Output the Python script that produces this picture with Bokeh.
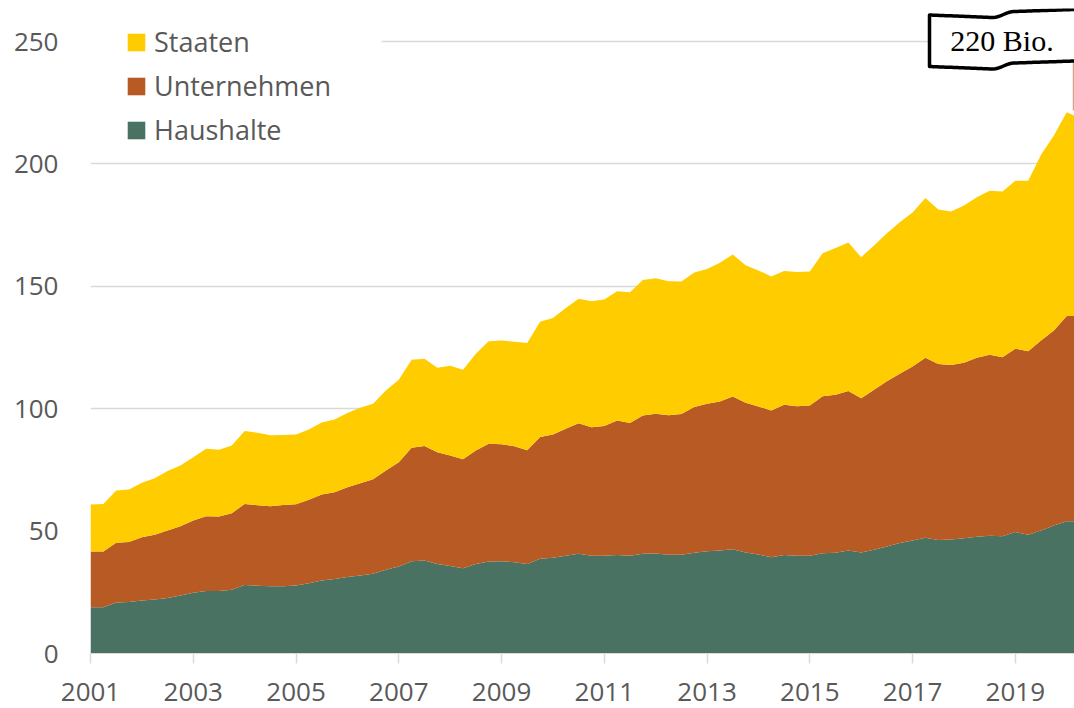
import math
from bokeh.plotting import figure
from bokeh.models import (ColumnDataSource, Range1d, FixedTicker, Legend, LegendItem,
                          BoxAnnotation)
from bokeh.embed import file_html
from bokeh.resources import INLINE
from bokeh.core.properties import value

# ---------------- data (quarterly, 2001 Q1 onwards) ----------------
start_year = 2001
haushalte = [18.9, 18.9, 20.8, 21.0, 21.7, 22.1, 22.7, 23.7, 24.8, 25.5, 25.5, 26.0,
             28.0, 27.7, 27.5, 27.5, 27.8, 28.7, 29.8, 30.4, 31.2, 31.9, 32.6, 34.2,
             35.5, 37.7, 38.0, 36.6, 35.7, 34.8, 36.6, 37.6, 37.7, 37.3, 36.6, 38.7,
             39.1, 39.9, 40.7, 39.9, 39.9, 40.2, 39.9, 40.7, 40.8, 40.3, 40.3, 41.2,
             41.8, 42.1, 42.6, 41.3, 40.4, 39.3, 40.2, 39.9, 39.9, 41.0, 41.2, 42.1,
             41.3, 42.4, 43.7, 45.1, 46.2, 47.3, 46.4, 46.6, 47.1, 47.7, 48.1, 47.9,
             49.6, 48.5, 50.2, 52.3, 54.0, 54.0]
unternehmen = [22.8, 22.8, 24.4, 24.5, 25.8, 26.4, 27.5, 28.3, 29.5, 30.6, 30.5, 31.3,
               33.1, 32.9, 32.7, 33.2, 33.2, 34.1, 35.1, 35.5, 36.7, 37.6, 38.6, 40.6,
               42.6, 46.3, 46.8, 45.6, 45.2, 44.6, 46.3, 48.1, 47.8, 47.4, 46.4, 49.7,
               50.4, 51.9, 53.4, 52.5, 53.0, 55.0, 54.3, 56.5, 57.1, 57.0, 57.5, 59.5,
               60.2, 60.8, 62.4, 61.1, 60.5, 60.0, 61.4, 61.1, 61.4, 64.1, 64.5, 65.1,
               63.0, 65.3, 67.5, 69.2, 71.0, 73.5, 71.9, 71.3, 71.7, 73.1, 73.9, 73.1,
               74.9, 75.0, 77.7, 79.6, 83.9, 83.9]
staaten = [19.2, 19.4, 21.4, 21.5, 22.2, 23.1, 24.3, 24.8, 25.9, 27.5, 27.2, 27.7,
           29.8, 29.6, 29.0, 28.6, 28.5, 28.7, 29.5, 29.7, 30.3, 30.9, 30.8, 32.6,
           33.7, 36.0, 35.6, 34.5, 36.6, 36.5, 39.5, 41.9, 42.4, 42.6, 43.8, 47.1,
           47.6, 49.3, 50.8, 51.5, 51.7, 52.8, 53.4, 55.4, 55.4, 54.8, 54.2, 54.9,
           55.1, 56.7, 58.0, 56.2, 55.6, 54.7, 54.7, 54.8, 54.7, 58.4, 59.9, 60.7,
           57.6, 59.0, 60.5, 61.9, 62.9, 65.3, 63.1, 62.7, 64.2, 65.6, 67.0, 67.7,
           68.6, 69.6, 75.8, 79.7, 83.2, 80.9]
series_names = ["Haushalte", "Unternehmen", "Staaten"]
series_colors = ["#4A7262", "#B85A24", "#FFCC00"]
x_ticks = [2001, 2003, 2005, 2007, 2009, 2011, 2013, 2015, 2017, 2019]
y_ticks = [0, 50, 100, 150, 200, 250]
annotation_text = "220 Bio."

quarters = [start_year + i / 4 for i in range(len(haushalte))]

# ---------------- layout constants ----------------
FW, FH = 984, 645
LEFT, TOP = 90, 8
PX_YEAR = 51.38
PX_UNIT = 2.448
X0 = 2001.0
X1 = X0 + FW / PX_YEAR
Y1 = FH / PX_UNIT
FONT = "Open Sans"
GREY = "#595959"
LIGHT = "#D9D9D9"


def fx(px):  # canvas pixel -> data x
    return X0 + (px - LEFT) / PX_YEAR


def fy(py):  # canvas pixel -> data y
    return (TOP + FH - py) / PX_UNIT


p = figure(frame_width=FW, frame_height=FH, x_range=Range1d(X0, X1), y_range=Range1d(0, Y1),
           output_backend="svg", toolbar_location=None, min_border=0,
           min_border_left=LEFT, min_border_top=TOP, min_border_bottom=55)
p.outline_line_color = None
p.background_fill_color = "white"
p.border_fill_color = "white"

src = ColumnDataSource(dict(x=quarters, Haushalte=haushalte, Unternehmen=unternehmen,
                            Staaten=staaten))
rs = p.varea_stack(stackers=series_names, x="x", color=series_colors, source=src)

# axes
xa = p.xaxis[0]
xa.ticker = FixedTicker(ticks=x_ticks)
xa.major_label_overrides = {t: str(t) for t in x_ticks}
xa.axis_line_color = LIGHT
xa.axis_line_width = 1.2
xa.major_tick_line_color = LIGHT
xa.major_tick_line_width = 1.5
xa.major_tick_out = 10
xa.major_tick_in = 0
xa.minor_tick_line_color = None
xa.major_label_text_font = FONT
xa.major_label_text_font_size = "26px"
xa.major_label_text_color = GREY
xa.major_label_standoff = 19

ya = p.yaxis[0]
ya.ticker = FixedTicker(ticks=y_ticks)
ya.axis_line_color = None
ya.major_tick_line_color = None
ya.minor_tick_line_color = None
ya.major_tick_out = 0
ya.major_tick_in = 0
ya.major_label_text_font = FONT
ya.major_label_text_font_size = "26px"
ya.major_label_text_color = GREY
ya.major_label_standoff = 32

p.xgrid.visible = False
p.ygrid.ticker = FixedTicker(ticks=y_ticks)
p.ygrid.grid_line_color = LIGHT
p.ygrid.grid_line_width = 1.3

# white strip hiding the top gridline behind the legend
mask = BoxAnnotation(left=X0, right=fx(381), bottom=fy(52), top=fy(30), fill_color="white",
                     fill_alpha=1, line_color=None, level="underlay")
p.add_layout(mask)

# legend
items = [LegendItem(label=n, renderers=[r]) for n, r in zip(series_names, rs)][::-1]
legend = Legend(items=items, location=(35, 505))
legend.glyph_width = 22
legend.glyph_height = 22
legend.label_standoff = 7
legend.spacing = 7
legend.padding = 4
legend.margin = 0
legend.label_text_font = FONT
legend.label_text_font_size = "27px"
legend.label_text_color = GREY
legend.background_fill_color = "white"
legend.background_fill_alpha = 1
legend.border_line_color = None
p.add_layout(legend)

# flag annotation "220 Bio."
p.line([fx(1073), fx(1073)], [fy(62), fy(110)], line_color="#D9A48A", line_width=1.5)


def flag_top(px):
    if px <= 992:
        return 14.5 + (px - 929) * (17.0 - 14.5) / (992 - 929)
    if px < 1014:
        t = (px - 992) / 22
        return 17.0 + (11.0 - 17.0) * (1 - math.cos(math.pi * t)) / 2
    return 11.0 - (px - 1014) * 2 / 60


xs_px = [929 + k for k in range(0, 160, 2)]
top_pts = [(x, flag_top(x)) for x in xs_px]
bot_pts = [(x, flag_top(x) + 51.5) for x in reversed(xs_px)]
poly = top_pts + bot_pts
p.patch([fx(a) for a, _ in poly], [fy(b) for _, b in poly], fill_color="white",
        line_color="black", line_width=3.5, line_join="round")
p.text(x=[fx(1001.5)], y=[fy(39.5)], text=[annotation_text], text_font=value("Liberation Serif"),
       text_font_size="30px", text_align="center", text_baseline="middle", text_color="black")

open("out.html", "w").write(file_html(p, INLINE))
